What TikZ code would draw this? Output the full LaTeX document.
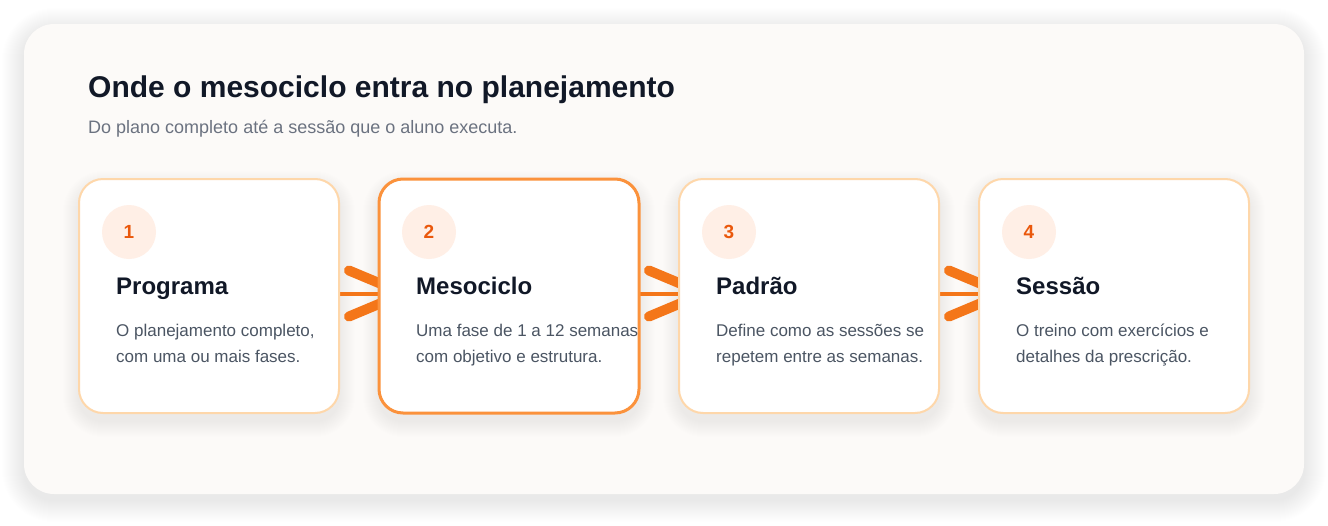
\documentclass[tikz,border=0pt]{standalone}
\usepackage{fontspec}
\setmainfont{Liberation Sans}
\usetikzlibrary{calc}
\definecolor{ink}{HTML}{111827}
\definecolor{subc}{HTML}{6B7280}
\definecolor{bodyc}{HTML}{4B5563}
\definecolor{panelc}{HTML}{FCFAF8}
\definecolor{peach}{HTML}{FED7AA}
\definecolor{accent}{HTML}{FB923C}
\definecolor{arrowc}{HTML}{F47619}
\definecolor{badgec}{HTML}{FFEFE6}
\definecolor{numc}{HTML}{EA580C}
\pgfdeclarelayer{shadowlayer}
\pgfdeclarelayer{arrowlayer}
\pgfsetlayers{shadowlayer,arrowlayer,main}
\tikzset{
  card/.style={draw=peach, line width=2pt, fill=white, rounded corners=24pt,
    minimum width=260pt, minimum height=234pt, inner sep=0pt, outer sep=0pt, anchor=north west},
  activecard/.style={card, draw=accent, line width=3pt},
  badge/.style={circle, fill=badgec, minimum size=54pt, inner sep=0pt,
    text=numc, font=\fontsize{19}{22}\selectfont\bfseries},
  cardtitle/.style={anchor=base west, inner sep=0pt, text=ink, font=\fontsize{24}{28}\selectfont\bfseries},
  cardbody/.style={anchor=base west, inner sep=0pt, text=bodyc, font=\fontsize{17}{20}\selectfont},
  linkline/.style={draw=arrowc, line width=4pt},
  wing/.style={draw=arrowc, line width=10pt, line cap=round, line join=round},
}
\begin{document}
\begin{tikzpicture}[x=1pt, y=-1pt]
\useasboundingbox (0,0) rectangle (1328,525);

% panel
\begin{pgfonlayer}{shadowlayer}
\fill[white] (0,0) rectangle (1328,525);
\foreach \s in {1,...,22} {
  \fill[black, opacity=0.0042, rounded corners={30+\s}]
    (24-\s, 24-\s+6) rectangle (1304+\s, 494+\s+6);
}
\fill[panelc, rounded corners=30pt] (24,24) rectangle (1304,494);
\end{pgfonlayer}

\node[anchor=base west, inner sep=0pt, text=ink, font=\fontsize{30}{36}\selectfont\bfseries]
  (title) at (88,97) {Onde o mesociclo entra no planejamento};
\node[anchor=base west, inner sep=0pt, text=subc, font=\fontsize{18}{22}\selectfont]
  (subtitle) at (88,133) {Do plano completo até a sessão que o aluno executa.};

% cards
\node[card] (c1) at (79,179) {};
\node[activecard] (c2) at (379,179) {};
\node[card] (c3) at (679,179) {};
\node[card, minimum width=270pt] (c4) at (979,179) {};

% card shadows
\begin{pgfonlayer}{shadowlayer}
\foreach \c in {c1,c2,c3,c4} {
  \foreach \s in {1,...,16} {
    \fill[black, opacity=0.0042, rounded corners={24+\s}]
      ($(\c.north west)+(-\s,-\s+8)$) rectangle ($(\c.south east)+(\s,\s+8)$);
  }
}
\end{pgfonlayer}

% badges
\node[badge] (n1) at ($(c1.north west)+(50,53)$) {1};
\node[badge] (n2) at ($(c2.north west)+(50,53)$) {2};
\node[badge] (n3) at ($(c3.north west)+(50,53)$) {3};
\node[badge] (n4) at ($(c4.north west)+(50,53)$) {4};

% titles
\node[cardtitle] (t1) at ($(c1.north west)+(37,115)$) {Programa};
\node[cardtitle] (t2) at ($(c2.north west)+(37,115)$) {Mesociclo};
\node[cardtitle] (t3) at ($(c3.north west)+(37,115)$) {Padrão};
\node[cardtitle] (t4) at ($(c4.north west)+(37,115)$) {Sessão};

% bodies
\node[cardbody] (b1a) at ($(c1.north west)+(37,157)$) {O planejamento completo,};
\node[cardbody] (b1b) at ($(c1.north west)+(37,183.5)$) {com uma ou mais fases.};
\node[cardbody] (b2a) at ($(c2.north west)+(37,157)$) {Uma fase de 1 a 12 semanas};
\node[cardbody] (b2b) at ($(c2.north west)+(37,183.5)$) {com objetivo e estrutura.};
\node[cardbody] (b3a) at ($(c3.north west)+(37,157)$) {Define como as sessões se};
\node[cardbody] (b3b) at ($(c3.north west)+(37,183.5)$) {repetem entre as semanas.};
\node[cardbody] (b4a) at ($(c4.north west)+(37,157)$) {O treino com exercícios e};
\node[cardbody] (b4b) at ($(c4.north west)+(37,183.5)$) {detalhes da prescrição.};

% connectors
\begin{pgfonlayer}{arrowlayer}
\foreach \a/\b in {c1/c2, c2/c3, c3/c4} {
  \draw[linkline] ($(\a.east)+(0,-2.5)$) -- ($(\b.west)+(0,-2.5)$);
  \draw[wing] ($(\b.west)+(-30,-25.5)$) -- ($(\b.west)+(25,-2.5)$) -- ($(\b.west)+(-30,20.5)$);
}
\end{pgfonlayer}
\end{tikzpicture}
\end{document}
